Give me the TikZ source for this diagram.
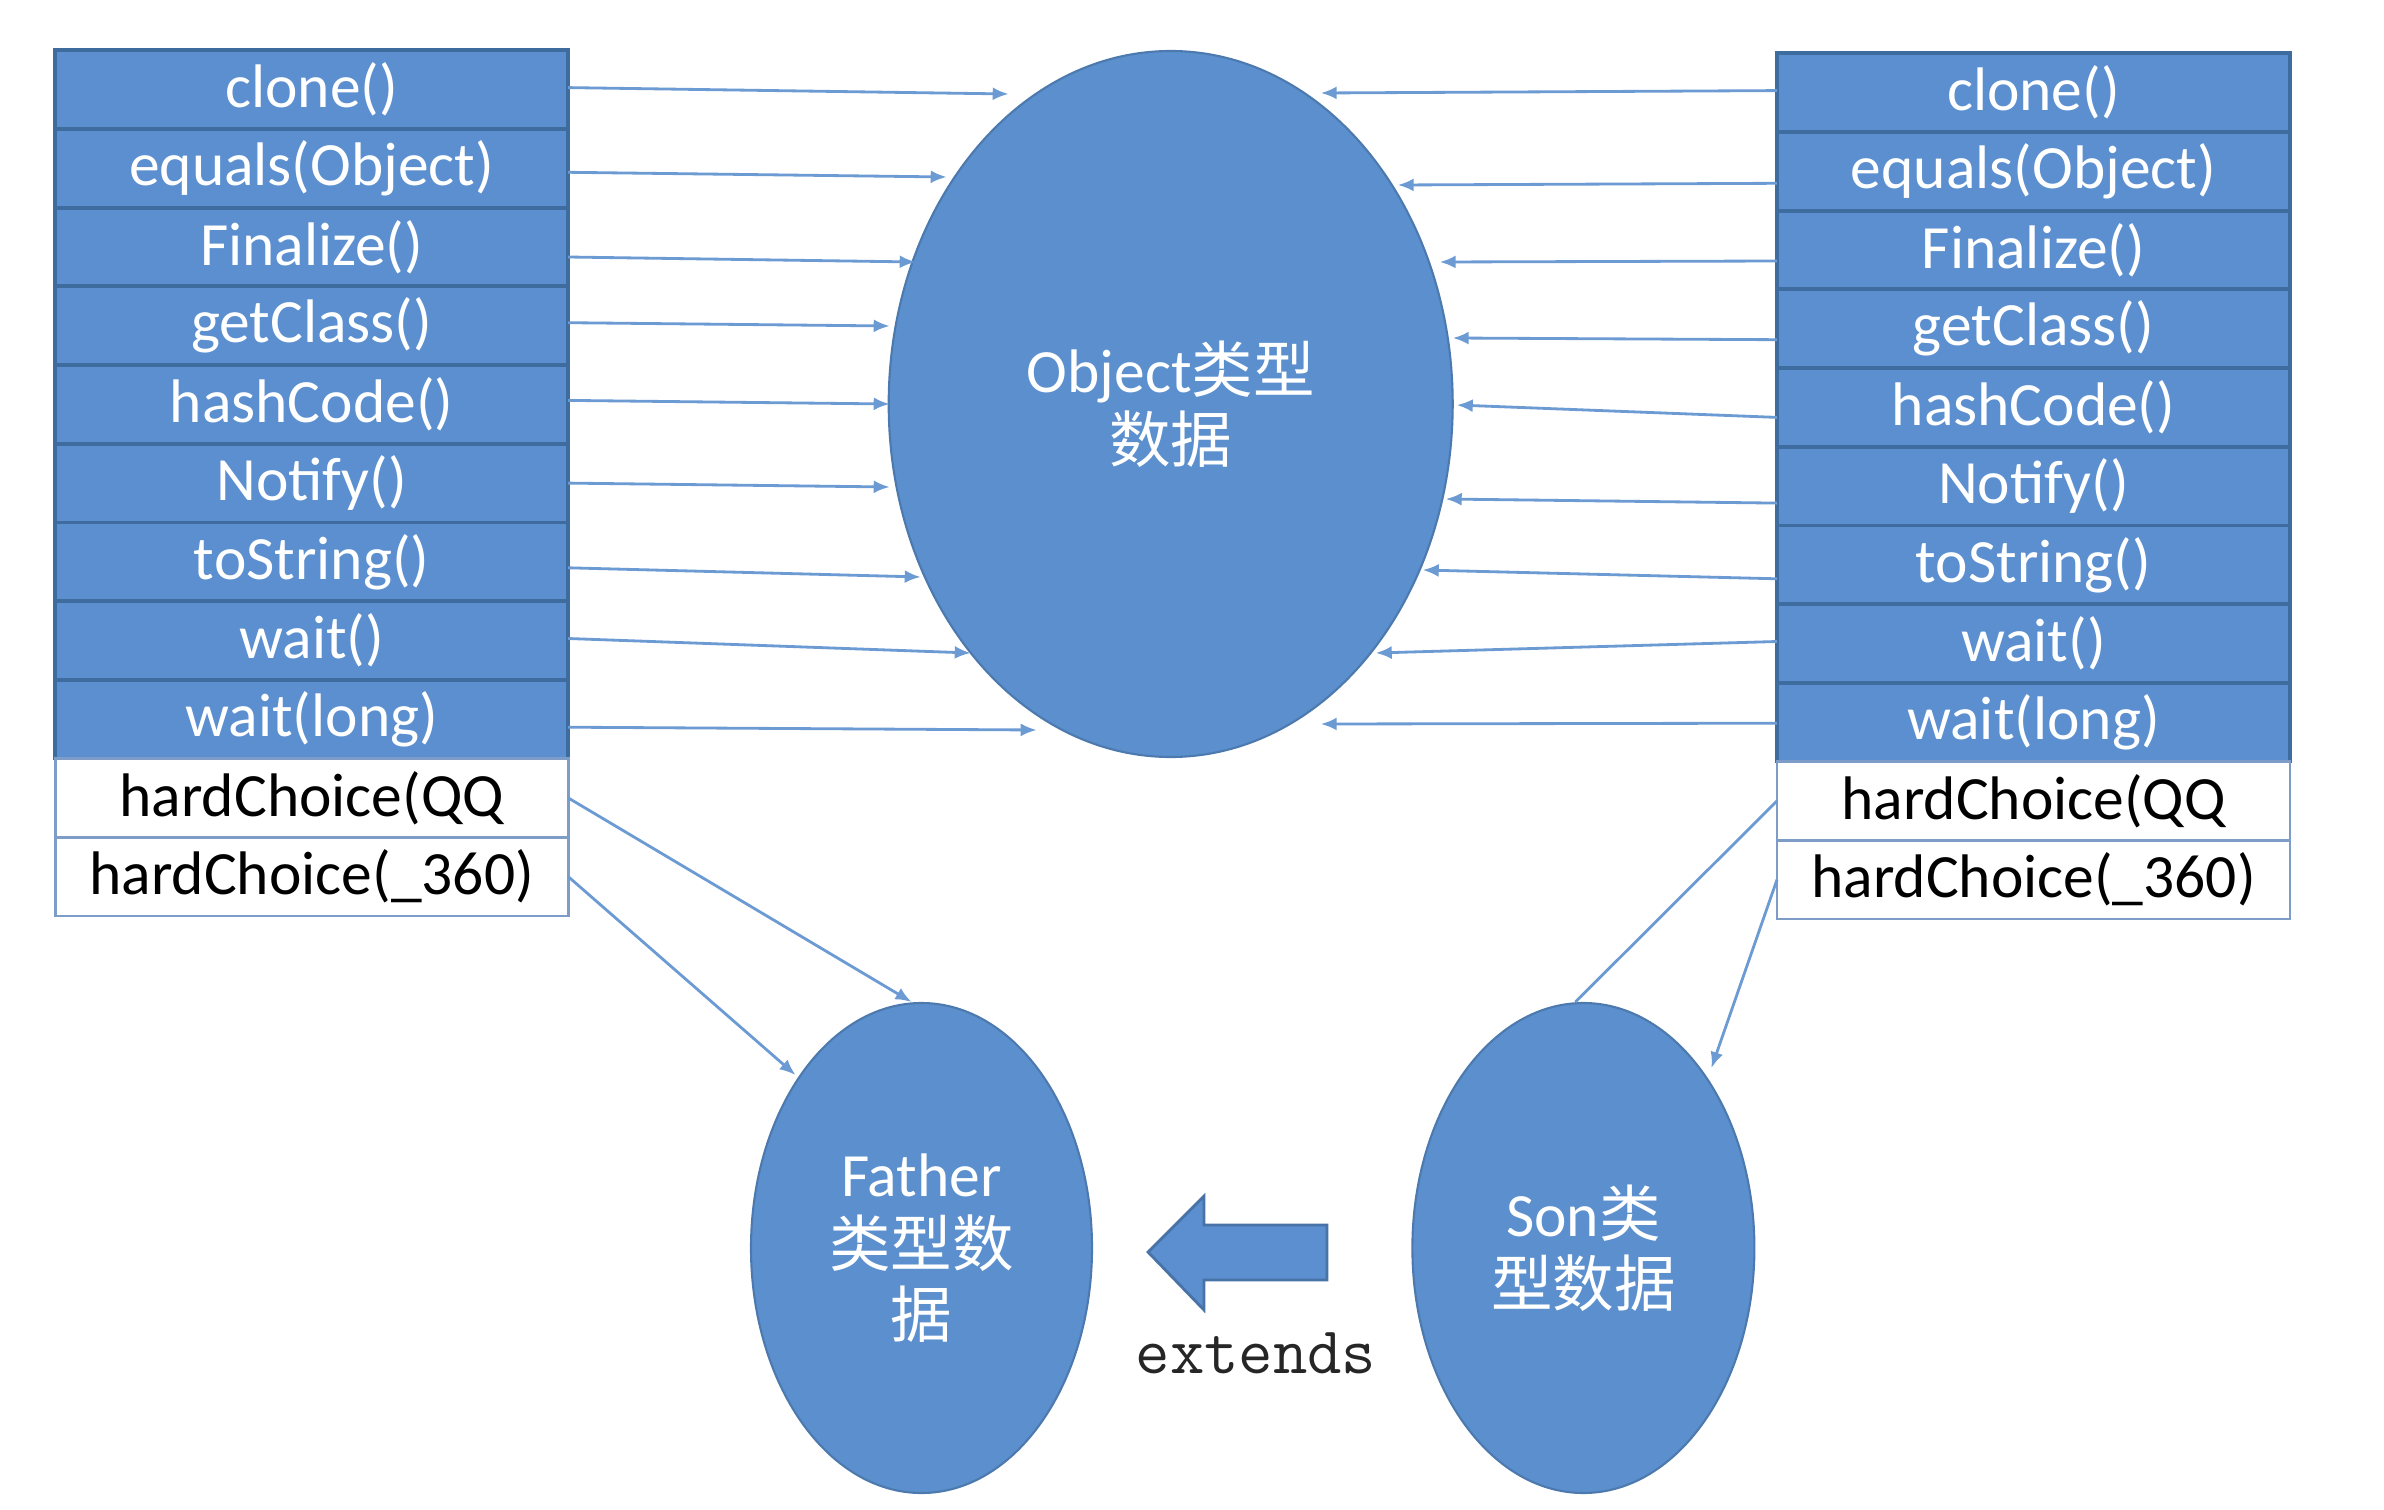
\documentclass[tikz,border=0pt]{standalone}
\usepackage{fontspec}
\usepackage{tikz}
\usepackage{xcolor}
\usetikzlibrary{positioning,shapes.geometric,arrows.meta}
\setmainfont{Carlito}
\newfontfamily\cjk{Noto Sans CJK SC}
\definecolor{cellblue}{HTML}{5B8FCF}
\definecolor{celledge}{HTML}{3F6C9E}
\definecolor{linkblue}{HTML}{6C9AD3}
\definecolor{whiteedge}{HTML}{7E9CC8}
\definecolor{ovalblue}{HTML}{5B8FCD}
\tikzset{
  bluecell/.style={draw=celledge,line width=1.1pt,fill=cellblue,text=white,
    minimum width=5.13cm,minimum height=0.787cm,inner sep=0pt,outer sep=0pt,
    font=\fontsize{17.5}{20}\selectfont},
  whitecell/.style={bluecell,draw=whiteedge,line width=0.8pt,fill=white,text=black},
  oval/.style={ellipse,draw=ovalblue!85!black,line width=0.6pt,fill=ovalblue,
    text=white,inner sep=0pt,align=center,font=\fontsize{17.5}{20}\selectfont},
  conn/.style={draw=linkblue,line width=0.8pt,-{Latex[length=1.6mm,width=1.3mm]}},
  plainlink/.style={draw=linkblue,line width=0.8pt},
}
\begin{document}
\begin{tikzpicture}
    \useasboundingbox (0,0) rectangle (23.84,-15.10);
    % Object, Father, Son
    \node[oval,minimum width=5.64cm,minimum height=7.06cm] (obj) at (11.707,-4.04) {Object{\cjk 类型}\\{\cjk 数据}};
    \node[oval,minimum width=3.41cm,minimum height=4.90cm] (fa) at (9.215,-12.48) {Father\\{\cjk 类型数}\\{\cjk 据}};
    \node[oval,minimum width=3.42cm,minimum height=4.90cm] (son) at (15.834,-12.48) {Son{\cjk 类}\\{\cjk 型数据}};
    %%%%%%%%%%%%%%%%%%%%%%%%%%%%%%%%%%
    % left table
    \node[bluecell] (l1) at (3.117,-0.896) {clone()};
    \foreach \txt/\sty [count=\i from 2] in {equals(Object)/bluecell,Finalize()/bluecell,
        getClass()/bluecell,hashCode()/bluecell,Notify()/bluecell,toString()/bluecell,
        wait()/bluecell,wait(long)/bluecell,hardChoice(QQ/whitecell,hardChoice(\_360)/whitecell}
      {\pgfmathtruncatemacro\j{\i-1}
       \node[\sty,below=0pt of l\j] (l\i) {\txt};}
    % right table
    \node[bluecell] (r1) at (20.335,-0.926) {clone()};
    \foreach \txt/\sty [count=\i from 2] in {equals(Object)/bluecell,Finalize()/bluecell,
        getClass()/bluecell,hashCode()/bluecell,Notify()/bluecell,toString()/bluecell,
        wait()/bluecell,wait(long)/bluecell,hardChoice(QQ/whitecell,hardChoice(\_360)/whitecell}
      {\pgfmathtruncatemacro\j{\i-1}
       \node[\sty,below=0pt of r\j] (r\i) {\txt};}
    %%%%%%%%%%%%%%%%%%%%%%%%%%%%%%%%%%
    \foreach \i/\s/\dx/\dy in {1/0.02/-1.62/3.10,2/-0.04/-2.24/2.27,3/-0.10/-2.55/1.42,4/0.03/-2.81/0.78,
        5/0.04/-2.81/0.00,6/0/-2.81/-0.83,7/-0.06/-2.50/-1.73,8/0.02/-2.00/-2.49,9/-0.08/-1.34/-3.26}
      \draw[conn] ([yshift=\s cm]l\i.east) -- ([shift={(\dx,\dy)}]obj.center); % left to Object
    \foreach \i/\s/\dx/\dy in {1/0.02/1.50/3.11,2/-0.12/2.27/2.19,3/-0.11/2.69/1.42,4/-0.11/2.82/0.66,
        5/-0.10/2.86/-0.01,6/-0.17/2.75/-0.95,7/-0.14/2.52/-1.66,8/0.02/2.05/-2.49,9/-0.01/1.50/-3.20}
      \draw[conn] ([yshift=\s cm]r\i.west) -- ([shift={(\dx,\dy)}]obj.center); % right to Object
    \draw[conn] (l10.east) -- ([xshift=-0.1cm]fa.north); % QQ
    \draw[conn] (l11.east) -- ([shift={(-1.26,1.73)}]fa.center); % 360
    \draw[plainlink] (r10.west) -- ([xshift=-0.08cm]son.north); % QQ
    \draw[conn] (r11.west) -- ([shift={(1.28,1.80)}]son.center); % 360
    %%%%%%%%%%%%%%%%%%%%%%%%%%%%%%%%%%
    \draw[fill=cellblue,draw=cellblue!80!black,line width=0.8pt] (11.48,-12.52) -- (12.04,-11.96) -- (12.04,-12.25)
      -- (13.27,-12.25) -- (13.27,-12.80) -- (12.04,-12.80) -- (12.04,-13.10) -- cycle; % extends arrow
    \node[font=\ttfamily\fontsize{19}{22}\selectfont,text=black!85] (ext) at (12.56,-13.53) {extends};
\end{tikzpicture}
\end{document}
